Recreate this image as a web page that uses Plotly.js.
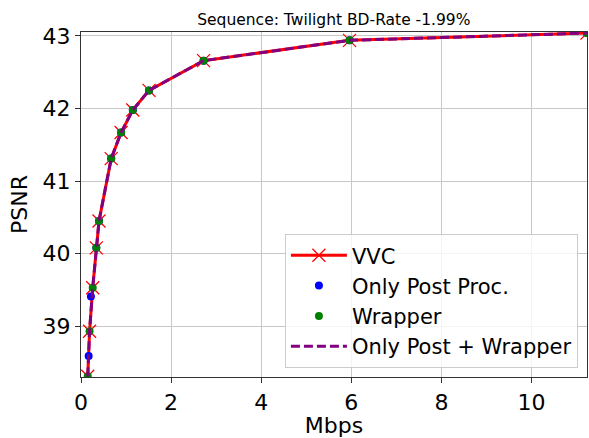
<!DOCTYPE html>
<html>
<head>
<meta charset="utf-8">
<script src="https://cdn.plot.ly/plotly-3.0.1.min.js"></script>
<style>
  html, body { margin: 0; padding: 0; background: #fff; }
  #chart { width: 589px; height: 438px; }
</style>
</head>
<body>
<div id="chart"></div>
<script>
// Data
const vvcRate = [0.15, 0.19, 0.26, 0.34, 0.40, 0.67, 0.89, 1.15, 1.51, 2.72, 5.96, 11.23];
const vvcPsnr = [38.31, 38.93, 39.53, 40.08, 40.45, 41.31, 41.67, 41.98, 42.25, 42.66, 42.94, 43.04];

const postRate = [0.17, 0.22, 0.34, 0.40, 0.67, 0.89, 1.15, 1.51, 2.72, 5.96, 11.23];
const postPsnr = [38.59, 39.41, 40.08, 40.45, 41.31, 41.67, 41.98, 42.25, 42.66, 42.94, 43.04];

const wrapRate = [0.15, 0.19, 0.26, 0.34, 0.40, 0.67, 0.89, 1.15, 1.51, 2.72, 5.96, 11.23];
const wrapPsnr = [38.31, 38.93, 39.53, 40.08, 40.45, 41.31, 41.67, 41.98, 42.25, 42.66, 42.94, 43.04];

const bothRate = [0.15, 0.19, 0.26, 0.34, 0.40, 0.67, 0.89, 1.15, 1.51, 2.72, 5.96, 11.23];
const bothPsnr = [38.31, 38.93, 39.53, 40.08, 40.45, 41.31, 41.67, 41.98, 42.25, 42.66, 42.94, 43.04];

const xTicks = [0, 2, 4, 6, 8, 10];
const yTicks = [39, 40, 41, 42, 43];

const seqTitle = "Sequence: Twilight BD-Rate -1.99%";

const FONT = "DejaVu Sans, Liberation Sans, sans-serif";

const traces = [
  {
    name: "VVC", x: vvcRate, y: vvcPsnr, type: "scatter", mode: "lines+markers",
    line: { color: "red", width: 3 },
    marker: { symbol: "x-thin", size: 13, line: { color: "red", width: 1.3 }, color: "red" }
  },
  {
    name: "Only Post Proc.", x: postRate, y: postPsnr, type: "scatter", mode: "markers",
    marker: { symbol: "circle", size: 8, color: "blue" }
  },
  {
    name: "Wrapper", x: wrapRate, y: wrapPsnr, type: "scatter", mode: "markers",
    marker: { symbol: "circle", size: 8, color: "green" }
  },
  {
    name: "Only Post + Wrapper", x: bothRate, y: bothPsnr, type: "scatter", mode: "lines",
    line: { color: "purple", width: 3, dash: "9px,4px" }
  }
];

const axisCommon = {
  showline: true, mirror: true, linecolor: "#333", linewidth: 1.2,
  showgrid: true, gridcolor: "#c8c8c8", gridwidth: 1,
  zeroline: false,
  ticks: "outside", ticklen: 5, tickcolor: "#333", tickwidth: 1,
  tickfont: { family: FONT, size: 22, color: "#000" }
};

const layout = {
  width: 589, height: 438,
  paper_bgcolor: "#fff", plot_bgcolor: "#fff",
  margin: { l: 81, r: 2, t: 32, b: 61 },
  font: { family: FONT, color: "#000" },
  title: {
    text: seqTitle,
    font: { family: FONT, size: 15.5, color: "#000" },
    x: 0.5668, xref: "container", xanchor: "center",
    y: 0.955, yref: "container", yanchor: "middle"
  },
  xaxis: Object.assign({}, axisCommon, {
    range: [0, 11.23], tickvals: xTicks, ticktext: xTicks.map(String),
    title: { text: "Mbps", font: { family: FONT, size: 22, color: "#000" }, standoff: 4 }
  }),
  yaxis: Object.assign({}, axisCommon, {
    range: [38.30, 43.055], tickvals: yTicks, ticktext: yTicks.map(String),
    title: { text: "PSNR", font: { family: FONT, size: 22, color: "#000" }, standoff: 8 }
  }),
  showlegend: true,
  legend: {
    x: 0.403, y: 0.414, xanchor: "left", yanchor: "top",
    bgcolor: "rgba(255,255,255,0.8)", bordercolor: "#cccccc", borderwidth: 1,
    font: { family: FONT, size: 21, color: "#000" },
    tracegroupgap: 0, itemwidth: 56
  }
};

Plotly.newPlot("chart", traces, layout, { displayModeBar: false, staticPlot: true });
</script>
</body>
</html>
